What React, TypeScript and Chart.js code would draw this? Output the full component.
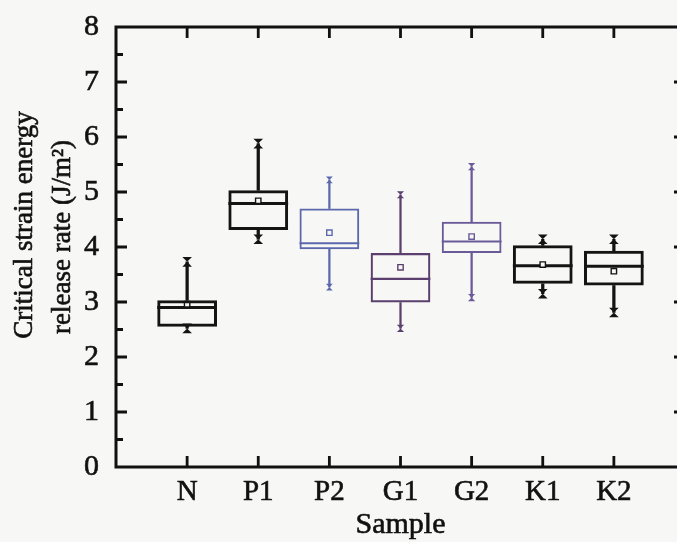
import React, { useEffect, useRef } from 'react';
import { Chart, registerables } from 'chart.js';

Chart.register(...registerables);

// ---- data ----
const categories = ['N', 'P1', 'P2', 'G1', 'G2', 'K1', 'K2'];
const whiskerLow = [2.52, 4.14, 3.27, 2.52, 3.08, 3.15, 2.81];
const q1 = [2.55, 4.31, 3.96, 2.99, 3.89, 3.33, 3.30];
const median = [2.90, 4.79, 4.07, 3.42, 4.10, 3.66, 3.65];
const mean = [2.96, 4.84, 4.26, 3.63, 4.19, 3.68, 3.56];
const q3 = [3.03, 5.03, 4.70, 3.89, 4.46, 4.03, 3.93];
const whiskerHigh = [3.73, 5.88, 5.22, 4.95, 5.46, 4.14, 4.14];
const yMin = 0;
const yMax = 8;
const yMajorStep = 1;
const yMinorStep = 0.5;
const yTitleLines = ['Critical strain energy', 'release rate (J/m\u00B2)'];
const xTitle = 'Sample';

// ---- styles ----
const boxColors = ['#141414', '#141414', '#5b68ac', '#5b406f', '#6a5a99', '#141414', '#141414'];
const isDark = [true, true, false, false, false, true, true];
const boxLineWidths = [3, 3, 2, 2.2, 2, 3, 3];
const capSizes = [4.8, 4.8, 3.4, 3.6, 3.6, 4.8, 4.8];
const FONT = '"Liberation Serif", "Times New Roman", serif';
const BG = '#f7f7f5';
const TEXT = '#111';

const pad = <T,>(arr: T[]): (T | null)[] => [null, ...arr, null];

const extrasPlugin = {
  id: 'boxExtras',
  beforeDraw(chart: any) {
    const ctx = chart.ctx;
    ctx.save();
    ctx.fillStyle = BG;
    ctx.fillRect(0, 0, chart.width, chart.height);
    ctx.restore();
  },
  beforeDatasetsDraw(chart: any) {
    const ctx = chart.ctx;
    const y = chart.scales.y;
    const meta = chart.getDatasetMeta(0);
    ctx.save();
    categories.forEach((_, i) => {
      const bar: any = meta.data[i + 1];
      if (!bar) return;
      const w = bar.width;
      const py = y.getPixelForValue(median[i]);
      ctx.strokeStyle = boxColors[i];
      ctx.lineWidth = boxLineWidths[i];
      ctx.beginPath();
      ctx.moveTo(bar.x - w / 2, py);
      ctx.lineTo(bar.x + w / 2, py);
      ctx.stroke();
    });
    ctx.restore();
  },
  afterDatasetsDraw(chart: any) {
    const ctx = chart.ctx;
    const xS = chart.scales.x;
    const yS = chart.scales.y;
    ctx.save();
    categories.forEach((_, i) => {
      const px = xS.getPixelForValue(i + 1);
      const s = capSizes[i];
      [whiskerLow[i], whiskerHigh[i]].forEach((v) => {
        const py = yS.getPixelForValue(v);
        ctx.fillStyle = boxColors[i];
        ctx.beginPath();
        ctx.moveTo(px - s, py - s);
        ctx.lineTo(px + s, py - s);
        ctx.lineTo(px, py);
        ctx.closePath();
        ctx.fill();
        ctx.beginPath();
        ctx.moveTo(px - s, py + s);
        ctx.lineTo(px + s, py + s);
        ctx.lineTo(px, py);
        ctx.closePath();
        ctx.fill();
      });
    });
    ctx.restore();
  },
  afterDraw(chart: any) {
    const ctx = chart.ctx;
    const { left, right, top, bottom } = chart.chartArea;
    const xS = chart.scales.x;
    const yS = chart.scales.y;
    ctx.save();
    ctx.strokeStyle = '#111';
    ctx.lineWidth = 3;
    ctx.strokeRect(left, top, right - left, bottom - top);
    ctx.lineWidth = 2.8;
    for (let v = yMin + yMinorStep; v < yMax - 1e-9; v += yMinorStep) {
      const py = yS.getPixelForValue(v);
      const major = Math.abs(v / yMajorStep - Math.round(v / yMajorStep)) < 1e-6;
      const len = major ? 11 : 7;
      ctx.beginPath();
      ctx.moveTo(left, py);
      ctx.lineTo(left + len, py);
      ctx.moveTo(right, py);
      ctx.lineTo(right - len, py);
      ctx.stroke();
    }
    categories.forEach((_, i) => {
      const px = xS.getPixelForValue(i + 1);
      ctx.beginPath();
      ctx.moveTo(px, top);
      ctx.lineTo(px, top + 11);
      ctx.moveTo(px, bottom);
      ctx.lineTo(px, bottom - 11);
      ctx.stroke();
    });
    ctx.fillStyle = TEXT;
    ctx.strokeStyle = TEXT;
    ctx.lineWidth = 0.6;
    ctx.font = `27px ${FONT}`;
    ctx.textAlign = 'center';
    ctx.textBaseline = 'middle';
    const midY = (top + bottom) / 2;
    const titlePos = [
      { dx: -91, dy: -22 },
      { dx: -53, dy: -10 },
    ];
    yTitleLines.forEach((line, k) => {
      ctx.save();
      ctx.translate(left + titlePos[k].dx, midY + titlePos[k].dy);
      ctx.rotate(-Math.PI / 2);
      ctx.fillText(line, 0, 0);
      ctx.strokeText(line, 0, 0);
      ctx.restore();
    });
    ctx.font = `30px ${FONT}`;
    ctx.textBaseline = 'alphabetic';
    ctx.fillText(xTitle, (left + right) / 2, bottom + 66);
    ctx.strokeText(xTitle, (left + right) / 2, bottom + 66);
    ctx.restore();
  },
};

export default function App() {
  const canvasRef = useRef<HTMLCanvasElement | null>(null);

  useEffect(() => {
    if (!canvasRef.current) return;
    const labels = ['', ...categories, ''];
    const boxData = pad(categories.map((_, i) => [q1[i], q3[i]]));
    const whiskerSet = (dark: boolean, upper: boolean) =>
      pad(
        categories.map((_, i) =>
          isDark[i] === dark ? (upper ? [q3[i], whiskerHigh[i]] : [whiskerLow[i], q1[i]]) : null
        )
      );
    const colorsPadded = ['#000', ...boxColors, '#000'];
    const widthsPadded = [1, ...boxLineWidths, 1];
    const whiskerDataset = (dark: boolean, upper: boolean) =>
      ({
        type: 'bar',
        data: whiskerSet(dark, upper) as any,
        backgroundColor: colorsPadded,
        borderWidth: 0,
        grouped: false,
        barThickness: dark ? 2.6 : 1.6,
      } as any);

    const chart = new Chart(canvasRef.current, {
      type: 'bar',
      data: {
        labels,
        datasets: [
          {
            type: 'bar',
            data: boxData as any,
            backgroundColor: 'rgba(0,0,0,0)',
            borderColor: colorsPadded,
            borderWidth: widthsPadded,
            borderSkipped: false,
            grouped: false,
            categoryPercentage: 1,
            barPercentage: 0.84,
          } as any,
          whiskerDataset(true, true),
          whiskerDataset(true, false),
          whiskerDataset(false, true),
          whiskerDataset(false, false),
          {
            type: 'line',
            data: pad(mean) as any,
            showLine: false,
            pointStyle: 'rect',
            pointRadius: 3.8,
            pointBackgroundColor: BG,
            pointBorderColor: colorsPadded,
            pointBorderWidth: 1.4,
          } as any,
        ],
      },
      options: {
        responsive: false,
        animation: false,
        events: [],
        layout: { padding: { top: 22, right: 15, left: 0, bottom: 0 } },
        plugins: {
          legend: { display: false },
          tooltip: { enabled: false },
        },
        scales: {
          x: {
            type: 'category',
            offset: false,
            grid: { display: false, offset: false },
            border: { display: false },
            ticks: {
              autoSkip: false,
              maxRotation: 0,
              minRotation: 0,
              padding: 0,
              color: TEXT,
              textStrokeColor: TEXT,
              textStrokeWidth: 0.6,
              font: { family: FONT, size: 29 },
            },
            afterFit: (s: any) => {
              s.height = 75;
            },
          },
          y: {
            type: 'linear',
            min: yMin,
            max: yMax,
            grid: { display: false },
            border: { display: false },
            ticks: {
              stepSize: yMajorStep,
              padding: 9,
              color: TEXT,
              textStrokeColor: TEXT,
              textStrokeWidth: 0.6,
              font: { family: FONT, size: 30 },
            },
            afterFit: (s: any) => {
              s.width = 116;
            },
          },
        },
      } as any,
      plugins: [extrasPlugin],
    });
    return () => chart.destroy();
  }, []);

  return (
    <div
      style={{
        position: 'fixed',
        left: 0,
        top: 0,
        width: 677,
        height: 542,
        overflow: 'hidden',
        background: BG,
      }}
    >
      <canvas ref={canvasRef} width={700} height={542} style={{ display: 'block' }} />
    </div>
  );
}
